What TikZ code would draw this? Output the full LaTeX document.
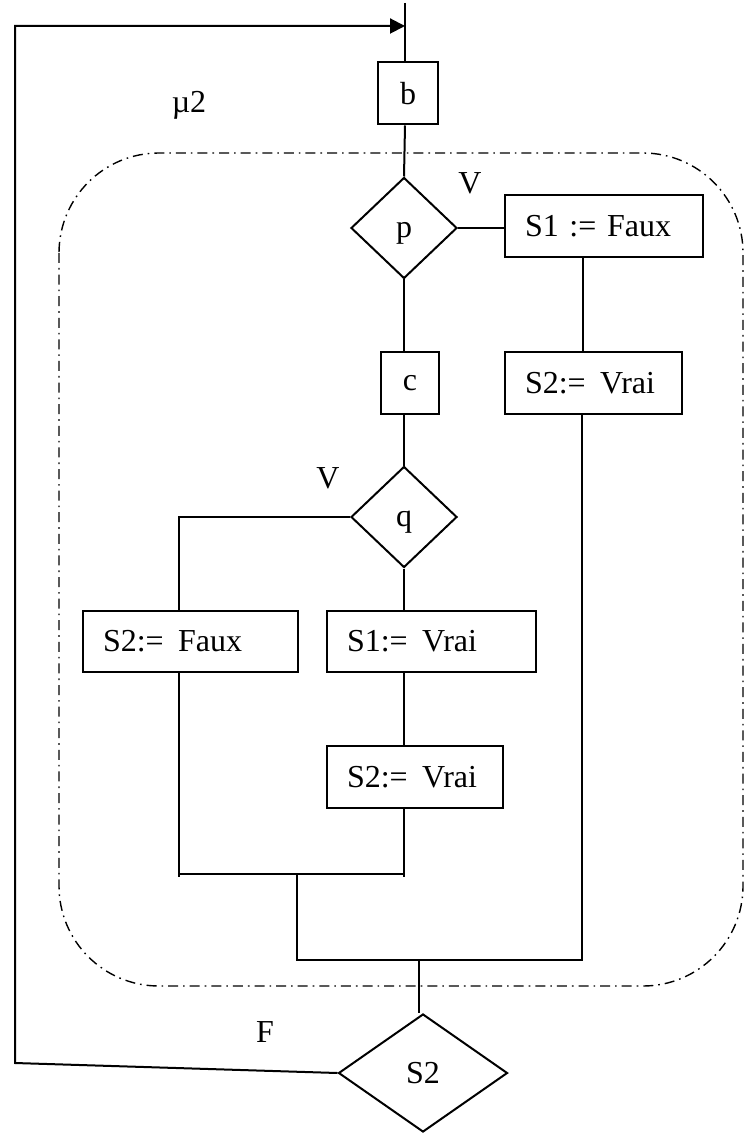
\documentclass[tikz,border=0pt]{standalone}
\usepackage{fontspec}
\setmainfont{Liberation Serif}
\usetikzlibrary{shapes.geometric,arrows.meta}
\begin{document}
\begin{tikzpicture}[x=0.5pt,y=-0.5pt,
  font=\fontsize{16}{19}\selectfont,
  ln/.style={line width=1pt},
  stmt/.style={draw,line width=1pt,inner xsep=10pt,inner ysep=0pt,minimum height=31pt,align=left},
  cbox/.style={draw,line width=1pt,inner sep=0pt,minimum height=31pt},
  dec/.style={draw,line width=1pt,diamond,inner sep=0pt,minimum width=53pt,minimum height=50.5pt},
  lbl/.style={inner sep=0pt},
  frame/.style={line width=0.7pt,dash pattern=on 5pt off 2.5pt on 0.8pt off 2.5pt,rounded corners=50pt}]
\useasboundingbox (0,0) rectangle (749,1138);

% frame
\draw[frame] (59,153) rectangle (743,986);

% nodes
\node[cbox,minimum width=30pt] (b) at (408,93.5) {b};
\node[dec] (p) at (404,228) {\raisebox{-2.5pt}[\height][\depth]{p}};
\node[stmt,text width=79pt] (f1) at (604,226) {S1 := Faux};
\node[stmt,text width=68.5pt] (v2r) at (593.5,383) {S2:=\hspace{0.45em}Vrai};
\node[cbox,minimum width=29pt] (c) at (410,383) {c};
\node[dec] (q) at (404,517) {\raisebox{-2.5pt}[\height][\depth]{q}};
\node[stmt,text width=87.5pt,minimum height=30.5pt] (f2) at (190.5,641.5) {S2:=\hspace{0.45em}Faux};
\node[stmt,text width=84.5pt,minimum height=30.5pt] (v1) at (431.5,641.5) {S1:=\hspace{0.45em}Vrai};
\node[stmt,text width=68pt] (v2m) at (415,777) {S2:=\hspace{0.45em}Vrai};
\node[dec,minimum width=84.5pt,minimum height=59pt] (s2) at (423,1073) {S2};

% labels
\node[lbl] (mu) at (189,105) {µ2};
\node[lbl] (vp) at (470,183) {V};
\node[lbl] (vq) at (328,478) {V};
\node[lbl] (fl) at (265,1032) {F};

% coordinates
\coordinate (top) at (405,3);
\coordinate (arr) at (405,26);
\coordinate (tl) at (15,26);
\coordinate (bl) at (15,1063);
\coordinate (xr) at (583,0);
\coordinate (xl) at (179,0);
\coordinate (xm) at (404,0);
\coordinate (ja) at (179,877);
\coordinate (jb) at (404,877);
\coordinate (ha) at (179,874);
\coordinate (hb) at (404,874);
\coordinate (jm) at (297,874);
\coordinate (jd) at (297,960);
\coordinate (je) at (582,960);
\coordinate (jf) at (419,960);

% connectors
\draw[ln] (top) -- (top |- b.north);
\draw[ln] (b.south -| top) -- (p.north);
\draw[ln] (p.east) -- (p.east -| f1.west);
\draw[ln] (f1.south -| xr) -- (v2r.north -| xr);
\draw[ln] (p.south) -- (p.south |- c.north);
\draw[ln] (c.south -| q.north) -- (q.north);
\draw[ln] (q.west) -- (q.west -| xl) -- (f2.north -| xl);
\draw[ln] (q.south) -- (q.south |- v1.north);
\draw[ln] (v1.south -| xm) -- (v2m.north -| xm);
\draw[ln] (f2.south -| ja) -- (ja);
\draw[ln] (v2m.south -| jb) -- (jb);
\draw[ln] (ha) -- (hb);
\draw[ln] (jm) -- (jd) -- (je) -- (v2r.south -| je);
\draw[ln] (jf) -- (jf |- s2.north);
\draw[ln,-{Triangle[length=7.5pt,width=7.5pt]}] (s2.west) -- (bl) -- (tl) -- (arr);
\end{tikzpicture}
\end{document}
